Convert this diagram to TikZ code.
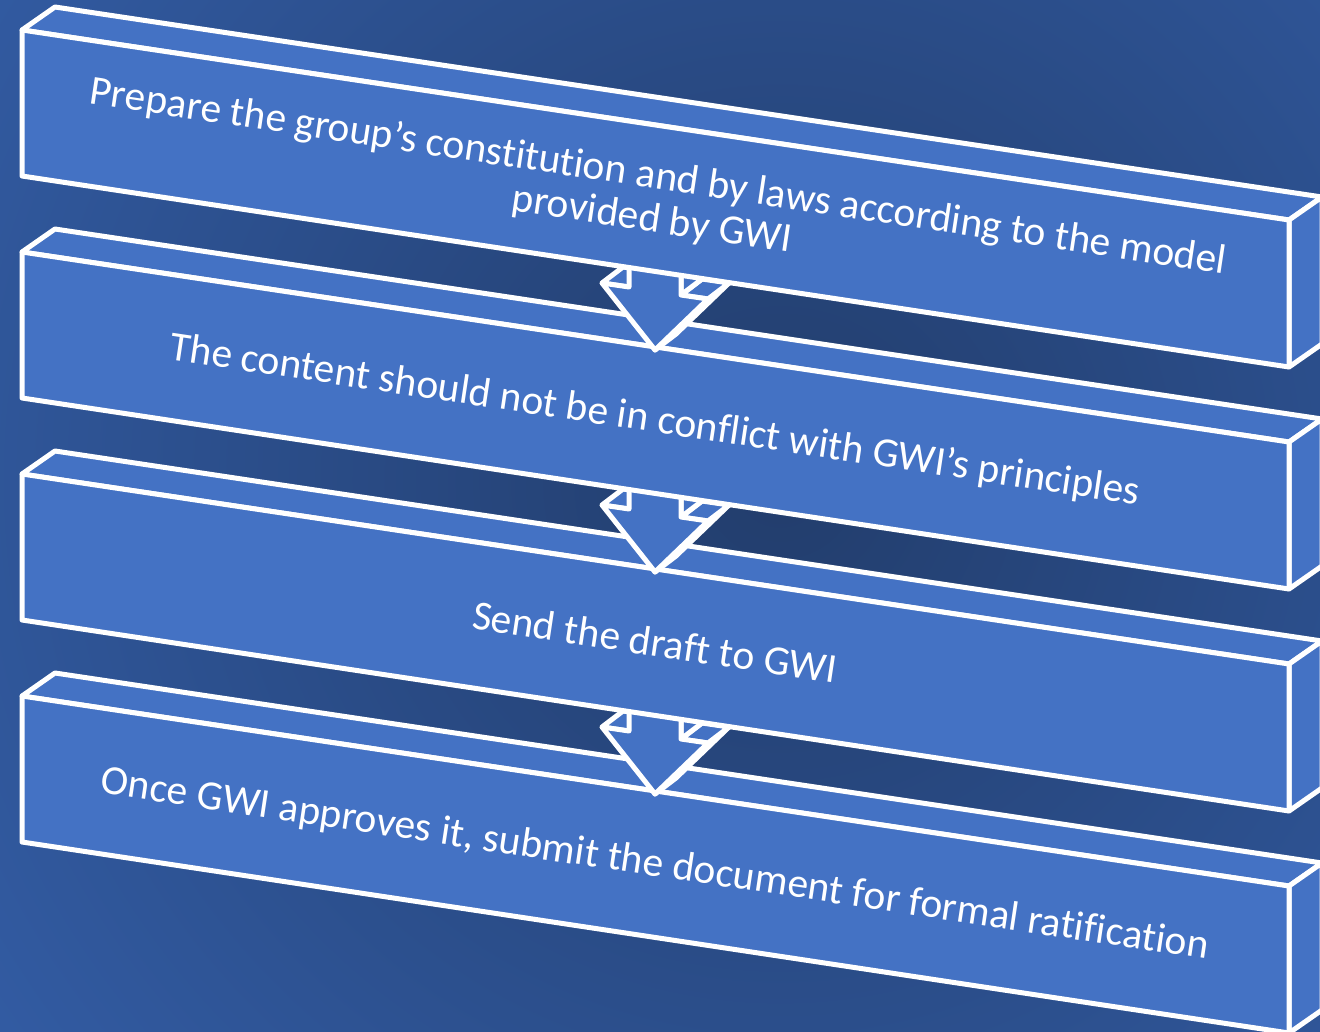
\documentclass[tikz,border=0pt]{standalone}
\usepackage{fontspec}
\setmainfont{Carlito}[Ligatures=NoCommon]
\usetikzlibrary{calc}

\definecolor{boxblue}{HTML}{4472C4}
\definecolor{bgdark}{HTML}{223D6C}
\definecolor{bglight}{HTML}{3866B6}

\begin{document}
\begin{tikzpicture} [x=1pt, y=-1pt,
        face/.style = {fill=boxblue, draw=white, line width=5pt, line join=round},
        steptext/.style = {text=white, font=\fontsize{41.5}{43}\selectfont,
                           align=center, rotate=-8.55}]
        \useasboundingbox (0,0) rectangle (1320,1031);
        \clip (0,0) rectangle (1320,1031);
        \fill [bglight] (0,0) rectangle (1320,1031);
        \shade [inner color=bgdark, outer color=bglight] (780,480) circle (1300);

        % boxes from the bottom up, each arrow under the box it leaves
        \foreach \i/\yt in {4/696, 3/474, 2/252, 1/30} {
          \path [face] (22,\yt) -- (55,{\yt-23}) -- (1322,{\yt+167}) -- (1289,{\yt+190}) -- cycle;
          \path [face] (1289,{\yt+190}) -- (1322,{\yt+167}) -- (1322,{\yt+314}) -- (1289,{\yt+337}) -- cycle;
          \path [face] (22,\yt) -- (1289,{\yt+190}) -- (1289,{\yt+337}) -- (22,{\yt+146}) -- cycle;
          \coordinate (in\i) at (655,{\yt+98});
          \ifnum\i>1
            \begin{scope} [shift={(in\i)}]
              \path [face] (53,-51) -- (74,-67) -- (21,-16) -- (0,0) -- cycle;
              \path [face] (-53,-67) -- (-32,-83) -- (-5,-79) -- (-26,-63) -- cycle;
              \path [face] (26,-55) -- (47,-71) -- (74,-67) -- (53,-51) -- cycle;
              \path [face] (26,-55) -- (47,-71) -- (47,-141) -- (26,-125) -- cycle;
              \path [face] (-26,-133) -- (-26,-63) -- (-53,-67) -- (0,0) -- (53,-51)
                           -- (26,-55) -- (26,-125) -- cycle;
            \end{scope}
          \fi
        }

        \node (prepare) [steptext] at (655,199)
          {Prepare the group’s constitution and by laws according to the model\\provided by GWI};
        \node (content) [steptext] at (655,421)
          {The content should not be in conflict with GWI’s principles};
        \node (send) [steptext] at (655,642) {Send the draft to GWI};
        \node (ratify) [steptext] at (655,865)
          {Once GWI approves it, submit the document for formal ratification};
    \end{tikzpicture}
\end{document}
